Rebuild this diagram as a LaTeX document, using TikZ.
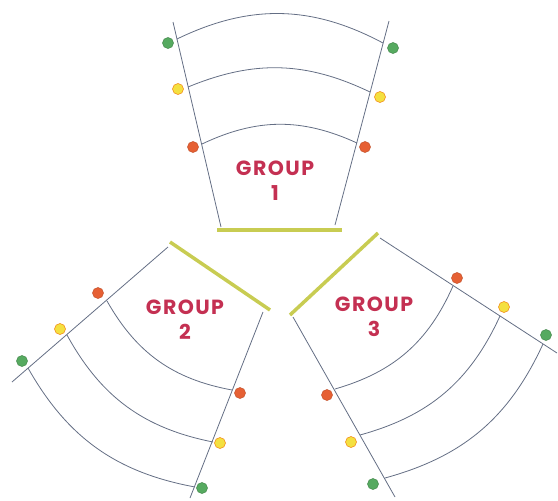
\documentclass[tikz,border=0pt]{standalone}
\usepackage{fontspec}
\newfontfamily\grpfont{Poppins}[LetterSpace=7]
\definecolor{linegray}{RGB}{100,110,132}
\definecolor{barolive}{RGB}{200,204,82}
\definecolor{grpred}{RGB}{196,48,82}
\definecolor{dotgreen}{RGB}{86,170,96}
\definecolor{dotyellow}{RGB}{244,224,64}
\definecolor{dotorange}{RGB}{230,96,52}
\tikzset{
  edge/.style={draw=linegray, line width=0.8pt},
  bar/.style={draw=barolive, line width=3.5pt},
  gdot/.style={fill=dotgreen, draw=dotgreen!80!black, line width=0.5pt},
  ydot/.style={fill=dotyellow, draw=orange!80!brown, line width=0.5pt},
  odot/.style={fill=dotorange, draw=dotorange!85!black, line width=0.5pt},
  grplabel/.style={text=grpred, font=\grpfont\bfseries\fontsize{20.5}{25}\selectfont, align=center}
}
\begin{document}
\begin{tikzpicture}[x=1pt,y=-1pt]
\useasboundingbox (0,0) rectangle (558,501);

% Group 1
\draw[edge] (221,227) -- (173,22);
\draw[edge] (335,225) -- (389,21);
\draw[edge] (202,144) to[bend left=25] (357,143);
\draw[edge] (188,87) to[bend left=24] (370,92);
\draw[edge] (177,39) to[bend left=27] (383,43);
\draw[bar] (217,230) -- (342,230);

\fill[gdot] (168,43) circle (5.5);
\fill[gdot] (393,48) circle (5.5);
\fill[ydot] (178,89) circle (5.5);
\fill[ydot] (380,97) circle (5.5);
\fill[odot] (193,147) circle (5.5);
\fill[odot] (365,147) circle (5.5);

\node[grplabel] (g1) at (275,181) {GROUP\\1};

% Group 2
\draw[edge] (168,247) -- (12,382);
\draw[edge] (263,312) -- (190,498);
\draw[edge] (232,390) to[bend left=25] (107,301);
\draw[edge] (213,442) to[bend left=25] (67,335);
\draw[edge] (195,487) to[bend left=25] (28,368);
\draw[bar] (170,242) -- (270,310);

\fill[odot] (98,293) circle (5.5);
\fill[ydot] (60,329) circle (5.5);
\fill[gdot] (22,361) circle (5.5);
\fill[odot] (240,393) circle (5.5);
\fill[ydot] (220,443) circle (5.5);
\fill[gdot] (202,488) circle (5.5);

\node[grplabel] (g2) at (185,320) {GROUP\\2};

% Group 3
\draw[edge] (380,238) -- (557,353);
\draw[edge] (293,317) -- (395,497);
\draw[edge] (453,286) to[bend left=25] (335,389);
\draw[edge] (500,316) to[bend left=25] (360,435);
\draw[edge] (543,344) to[bend left=25] (385,478);
\draw[bar] (290,315) -- (378,233);

\fill[odot] (457,278) circle (5.5);
\fill[ydot] (504,307) circle (5.5);
\fill[gdot] (546,335) circle (5.5);
\fill[odot] (327,395) circle (5.5);
\fill[ydot] (351,442) circle (5.5);
\fill[gdot] (373,484) circle (5.5);

\node[grplabel] (g3) at (374,317) {GROUP\\3};

\end{tikzpicture}
\end{document}
